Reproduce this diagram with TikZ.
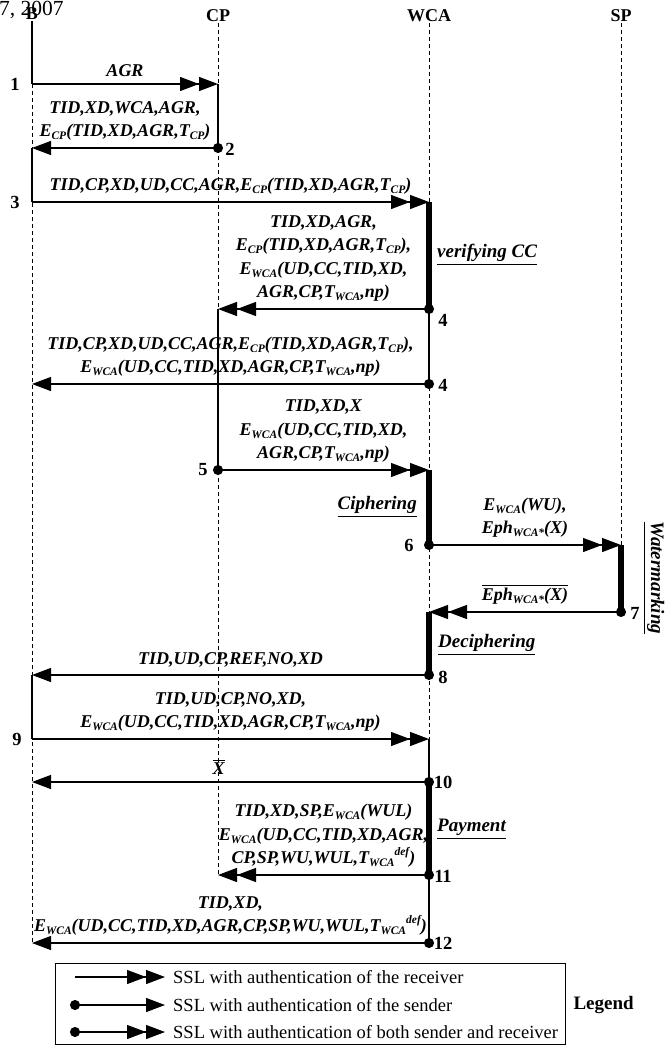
\documentclass[tikz,border=0pt]{standalone}
\usepackage{fontspec}
\usepackage{amsmath}
\setmainfont{Liberation Serif}
\usetikzlibrary{arrows.meta,positioning}

\newcommand\sbs[1]{\raisebox{-3pt}{\fontsize{11.5}{11.5}\selectfont#1}}
\newcommand\Tdef{T\sbs{WCA}\raisebox{8pt}{\fontsize{11.5}{11.5}\selectfont def}}

\tikzset{
  tri/.tip={Triangle[length=19pt,width=14pt]},
  msg/.style={font=\fontsize{18}{23.3}\selectfont\bfseries\itshape,align=center,inner sep=1pt,above=6pt},
  num/.style={font=\fontsize{18.5}{18.5}\selectfont\bfseries,inner sep=0pt},
  hdr/.style={font=\fontsize{18}{18}\selectfont\bfseries,inner sep=1pt},
  act/.style={font=\fontsize{19}{19}\selectfont\bfseries\itshape,inner sep=0pt},
  life/.style={line width=0.9pt,dash pattern=on 4pt off 3pt},
  active/.style={line width=1.2pt},
  bar/.style={line width=6.5pt},
  recv/.style={line width=1.2pt,-{tri[]tri[]}},
  send/.style={line width=1.2pt,{Circle[length=10pt]}-{tri[]},shorten <=-5pt},
  both/.style={line width=1.2pt,{Circle[length=10pt]}-{tri[]tri[]},shorten <=-5pt}
}

\begin{document}
\begin{tikzpicture}[x=1pt,y=-1pt]
\useasboundingbox (0,0) rectangle (671,1046);
\node[anchor=west,inner sep=0pt,font=\fontsize{21.5}{21.5}\selectfont] (date) at (-1,10) {7, 2007};
% lifelines
\node[hdr] (hB) at (32,14) {B};
\node[hdr] (hCP) at (218,16) {CP};
\node[hdr] (hWCA) at (429,16) {WCA};
\node[hdr] (hSP) at (621,16) {SP};
\foreach \n/\y in {1/84,2/148,3/202,4/309,4b/384,5/470,6/545,7/612,8/675,9/739,10/782,11/875,12/943} {
        \coordinate (B\n) at (32,\y);
        \coordinate (CP\n) at (218,\y);
        \coordinate (WCA\n) at (429,\y);
        \coordinate (SP\n) at (621,\y);
}
\draw[life] (hB.south) -- (B12);
\draw[life] (hCP.south) -- (CP11);
\draw[life] (hWCA.south) -- (WCA12);
\draw[life] (hSP.south) -- (SP7);
\draw[active] (hB.south) -- (B1);
\foreach \from/\to in {B2/B3,B8/B9,CP1/CP2,CP4/CP5,WCA4/WCA4b,WCA9/WCA10,WCA11/WCA12}
        \draw[active] (\from) -- (\to);
\foreach \from/\to in {WCA3/WCA4,WCA5/WCA6,SP6/SP7,WCA7/WCA8,WCA10/WCA11}
        \draw[bar] (\from) -- (\to);
% messages
\draw[recv] (B1) -- node[msg]{AGR} (CP1);
\draw[send] (CP2) -- node[msg]{TID,XD,WCA,AGR,\\E\sbs{CP}(TID,XD,AGR,T\sbs{CP})} (B2);
\draw[recv] (B3) -- node[msg]{TID,CP,XD,UD,CC,AGR,E\sbs{CP}(TID,XD,AGR,T\sbs{CP})} (WCA3);
\draw[both] (WCA4) -- node[msg]{TID,XD,AGR,\\E\sbs{CP}(TID,XD,AGR,T\sbs{CP}),\\E\sbs{WCA}(UD,CC,TID,XD,\\AGR,CP,T\sbs{WCA},np)} (CP4);
\draw[send] (WCA4b) -- node[msg]{TID,CP,XD,UD,CC,AGR,E\sbs{CP}(TID,XD,AGR,T\sbs{CP}),\\E\sbs{WCA}(UD,CC,TID,XD,AGR,CP,T\sbs{WCA},np)} (B4b);
\draw[both] (CP5) -- node[msg]{TID,XD,X\\E\sbs{WCA}(UD,CC,TID,XD,\\AGR,CP,T\sbs{WCA},np)} (WCA5);
\draw[both] (WCA6) -- node[msg]{E\sbs{WCA}(WU),\\Eph\sbs{WCA*}(X)} (SP6);
\draw[both] (SP7) -- node[msg]{$\overline{\text{Eph\sbs{WCA*}(X)}}$} (WCA7);
\draw[send] (WCA8) -- node[msg]{TID,UD,CP,REF,NO,XD} (B8);
\draw[recv] (B9) -- node[msg]{TID,UD,CP,NO,XD,\\E\sbs{WCA}(UD,CC,TID,XD,AGR,CP,T\sbs{WCA},np)} (WCA9);
\draw[send] (WCA10) -- node[msg,xshift=-12pt]{$\overline{\text{X}}$} (B10);
\draw[both] (WCA11) -- node[msg]{TID,XD,SP,E\sbs{WCA}(WUL)\\E\sbs{WCA}(UD,CC,TID,XD,AGR,\\CP,SP,WU,WUL,\Tdef)} (CP11);
\draw[send] (WCA12) -- node[msg]{TID,XD,\\E\sbs{WCA}(UD,CC,TID,XD,AGR,CP,SP,WU,WUL,\Tdef)} (B12);
% step numbers
\foreach \n/\x/\y in {1/15/84,2/230/149,3/15/202,4/443/320,4/443/385,5/203/470,6/409/545,7/635/613,8/443/677,9/17/739,10/443/782,11/443/876,12/443/943}
        \node[num] at (\x,\y) {\n};
% activities
\node[act,anchor=west] (verif) at (437,255) {\underline{verifying CC}};
\node[act,anchor=east] (ciph) at (417,507) {\underline{Ciphering}};
\node[act,anchor=west] (deciph) at (438,645) {\underline{Deciphering}};
\node[act,anchor=west] (pay) at (437,829) {\underline{Payment}};
\node[act,rotate=-90] (water) at (654,578) {\underline{Watermarking}};
% legend
\draw[line width=0.8pt] (55,963) rectangle (565,1044);
\foreach \k/\s/\y/\t in {a/recv/977/{SSL with authentication of the receiver},b/send/1005/{SSL with authentication of the sender},c/both/1032/{SSL with authentication of both sender and receiver}} {
        \coordinate (L\k) at (75,\y);
        \node[anchor=west,inner sep=0pt,font=\fontsize{18.5}{18.5}\selectfont] (T\k) at (173,\y) {\t};
        \draw[\s] (L\k) -- ([xshift=-8pt]T\k.west);
}
\node[font=\fontsize{19}{19}\selectfont\bfseries,anchor=west] (leg) at (570,1005) {Legend};
\end{tikzpicture}
\end{document}
